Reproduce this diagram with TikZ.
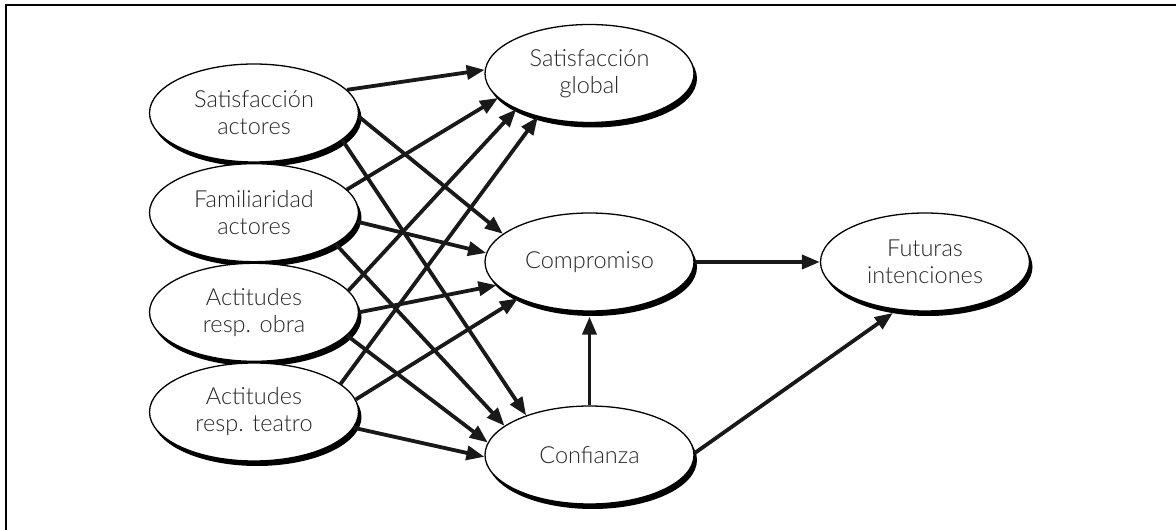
\documentclass[tikz,border=0pt]{standalone}
\usepackage{fontspec}
\setmainfont{Lato Light}
\usetikzlibrary{arrows.meta,shapes.geometric,shadows}

\begin{document}
\begin{tikzpicture}[x=1pt,y=1pt,
  latent/.style={ellipse, draw=black, line width=1.3pt, fill=white,
    minimum width=209pt, minimum height=98pt, inner sep=0pt,
    align=center, text=black!85, font=\fontsize{23.5}{27}\selectfont,
    drop shadow={shadow xshift=3pt, shadow yshift=-5pt, opacity=1, fill=black}},
  link/.style={line width=3.8pt, draw=black!90,
    -{Triangle[length=18pt,width=14pt]}}]

\useasboundingbox (0,0) rectangle (1176,530);
% frame (top and left rules)
\draw[line width=2pt] (6,0) -- (6,524.5) -- (1176,524.5);

% constructs on the left
\node[latent] (sa) at (254,417)   {Satisfacción\\actores};
\node[latent] (fa) at (254,317.3) {Familiaridad\\actores};
\node[latent] (ob) at (254,217.7) {Actitudes\\resp. obra};
\node[latent] (te) at (254,118)   {Actitudes\\resp. teatro};

% mediators and outcome
\node[latent] (sg) at (589.5,456.5) {Satisfacción\\global};
\node[latent] (co) at (589.5,268)   {Compromiso};
\node[latent] (cf) at (589.5,75)    {Confianza};
\node[latent] (fi) at (925,268)     {Futuras\\intenciones};

% paths from the antecedents
\draw[link] (sa.14)   -- (sg.178);
\draw[link] (sa.-2)   -- (co.162);
\draw[link] (sa.-17)  -- (cf.148);

\draw[link] (fa.14)   -- (sg.195);
\draw[link] (fa.-5)   -- (co.175);
\draw[link] (fa.-21)  -- (cf.161);

\draw[link] (ob.13)   -- (sg.206);
\draw[link] (ob.0)    -- (co.194.5);
\draw[link] (ob.-14)  -- (cf.173);

\draw[link] (te.18)   -- (sg.220);
\draw[link] (te.7.5)  -- (co.207.5);
\draw[link] (te.-9.5) -- (cf.181.5);

% paths among the mediators
\draw[link] (cf.90) -- ([yshift=-5pt]co.270);
\draw[link] (co.0)  -- (fi.180);
\draw[link] (cf.1)  -- ([shift={(2pt,-4pt)}]fi.234);
\end{tikzpicture}
\end{document}
